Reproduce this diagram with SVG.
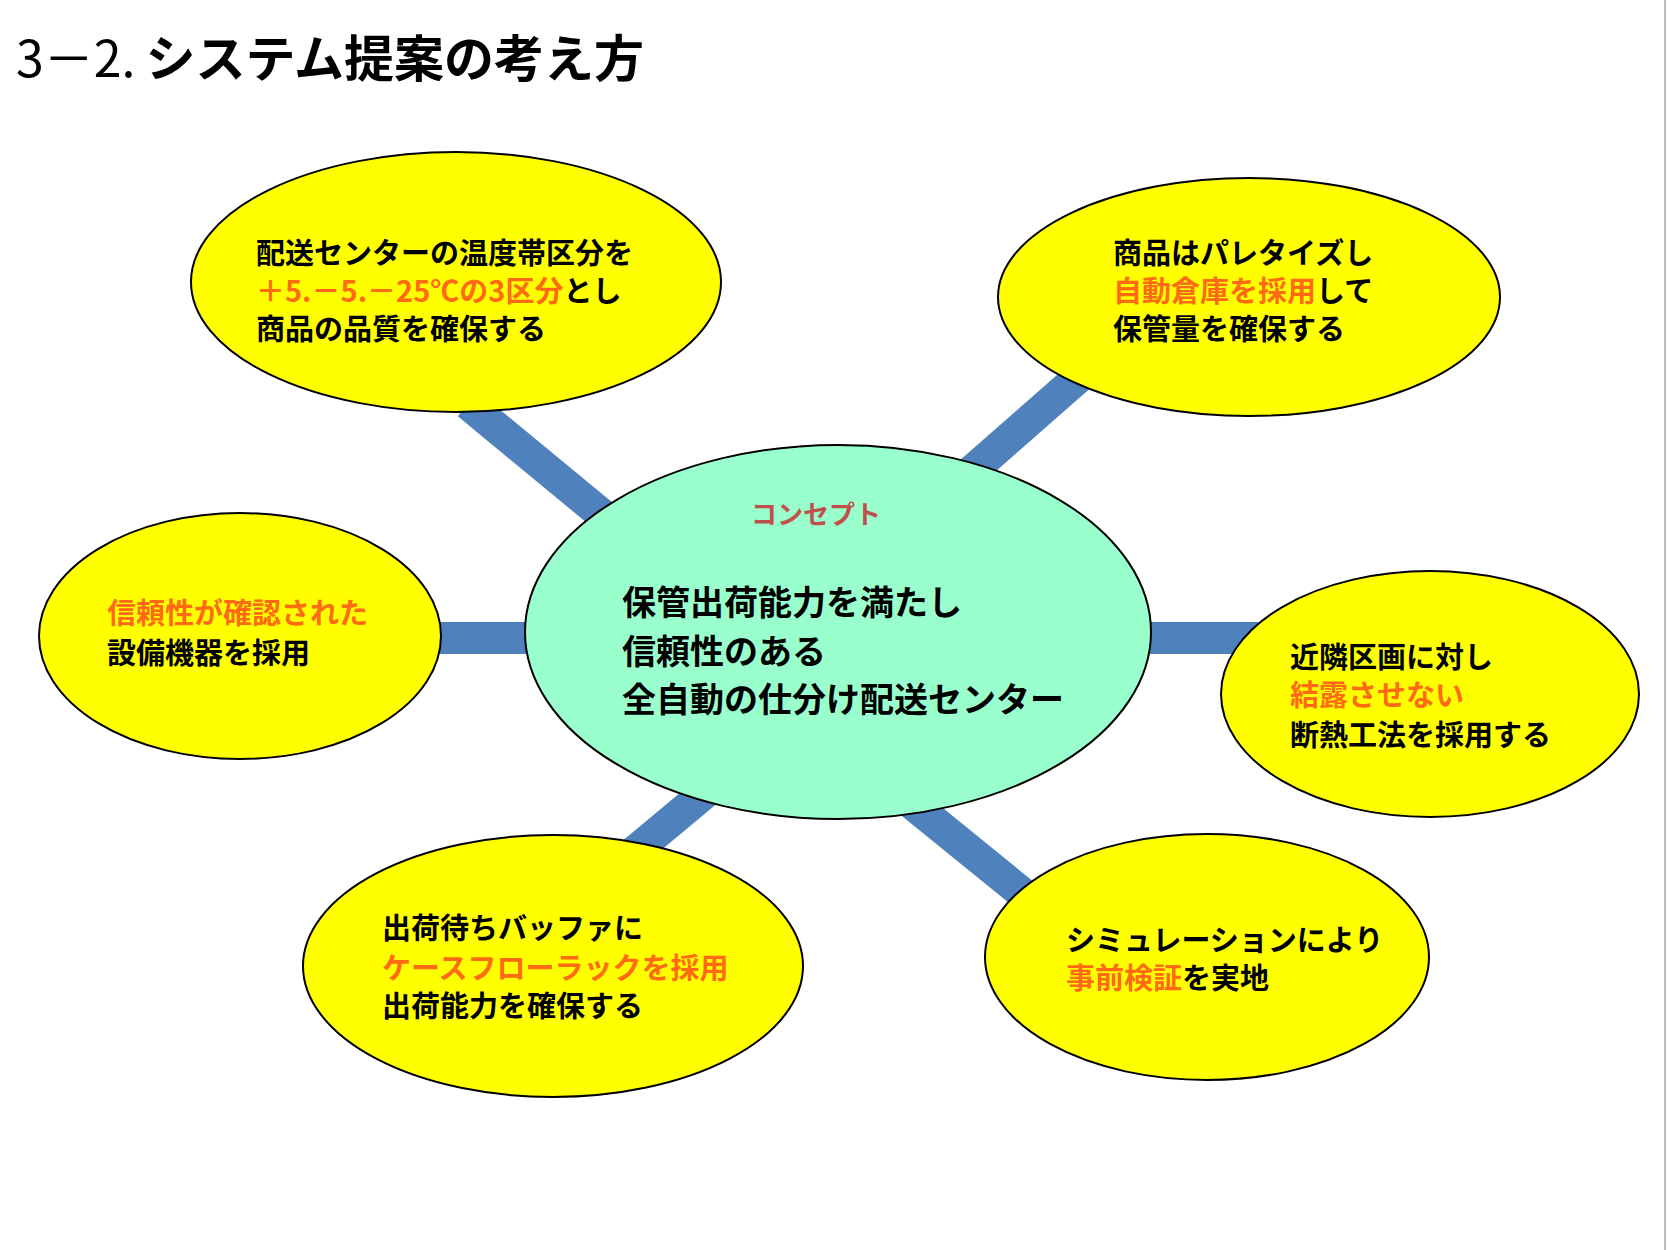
<svg xmlns="http://www.w3.org/2000/svg" width="1668" height="1250" viewBox="0 0 1668 1250">
<style>
.t{font-family:"Noto Sans CJK JP","Noto Sans",sans-serif;font-weight:bold;font-size:29px;fill:#000}
.o{fill:#FF6A13}
.y{fill:#FFFF00;stroke:#000;stroke-width:2}
.c{stroke:#4F81BD;stroke-width:32;fill:none}
</style>
<rect width="1668" height="1250" fill="#fff"/>
<line x1="1665" y1="0" x2="1665" y2="1250" stroke="#bbb" stroke-width="2"/>
<text x="16" y="77" font-family="'Noto Sans CJK JP',sans-serif" font-size="50" fill="#000"><tspan>3－2.</tspan><tspan font-weight="bold" dx="10">システム提案の考え方</tspan></text>
<g id="connectors">
<line class="c" x1="468" y1="404" x2="617" y2="527"/>
<line class="c" x1="1096" y1="362" x2="957" y2="484"/>
<line class="c" x1="430" y1="638" x2="540" y2="638"/>
<line class="c" x1="1140" y1="638" x2="1270" y2="638"/>
<line class="c" x1="718" y1="782" x2="622" y2="862"/>
<line class="c" x1="899" y1="793" x2="1043" y2="910"/>
</g>
<g id="center">
<ellipse cx="838" cy="632" rx="313" ry="187" fill="#99FFCC" stroke="#000" stroke-width="2"/>
<text class="t" x="751" y="524" font-size="26" fill="#C0504D" style="fill:#C0504D;font-size:26px">コンセプト</text>
<text class="t" style="font-size:34px"><tspan x="622" y="615">保管出荷能力を満たし</tspan><tspan x="622" y="664">信頼性のある</tspan><tspan x="622" y="712">全自動の仕分け配送センター</tspan></text>
</g>
<g id="n-tl">
<ellipse class="y" cx="456" cy="282" rx="265" ry="130"/>
<text class="t"><tspan x="256" y="264">配送センターの温度帯区分を</tspan><tspan x="256" y="302"><tspan class="o">＋5.－5.－25℃の3区分</tspan>とし</tspan><tspan x="256" y="340">商品の品質を確保する</tspan></text>
</g>
<g id="n-tr">
<ellipse class="y" cx="1249" cy="297" rx="251" ry="119"/>
<text class="t"><tspan x="1113" y="264">商品はパレタイズし</tspan><tspan x="1113" y="302"><tspan class="o">自動倉庫を採用</tspan>して</tspan><tspan x="1113" y="340">保管量を確保する</tspan></text>
</g>
<g id="n-l">
<ellipse class="y" cx="240" cy="636" rx="201" ry="123"/>
<text class="t"><tspan x="107" y="624" class="o">信頼性が確認された</tspan><tspan x="107" y="664">設備機器を採用</tspan></text>
</g>
<g id="n-r">
<ellipse class="y" cx="1430" cy="694" rx="209" ry="123"/>
<text class="t"><tspan x="1290" y="668">近隣区画に対し</tspan><tspan x="1290" y="706" class="o">結露させない</tspan><tspan x="1290" y="746">断熱工法を採用する</tspan></text>
</g>
<g id="n-bl">
<ellipse class="y" cx="553" cy="966" rx="250" ry="131"/>
<text class="t"><tspan x="382" y="939">出荷待ちバッファに</tspan><tspan x="382" y="979" class="o">ケースフローラックを採用</tspan><tspan x="382" y="1017">出荷能力を確保する</tspan></text>
</g>
<g id="n-br">
<ellipse class="y" cx="1207" cy="957" rx="222" ry="123"/>
<text class="t"><tspan x="1066" y="951">シミュレーションにより</tspan><tspan x="1066" y="989"><tspan class="o">事前検証</tspan>を実地</tspan></text>
</g>
</svg>
